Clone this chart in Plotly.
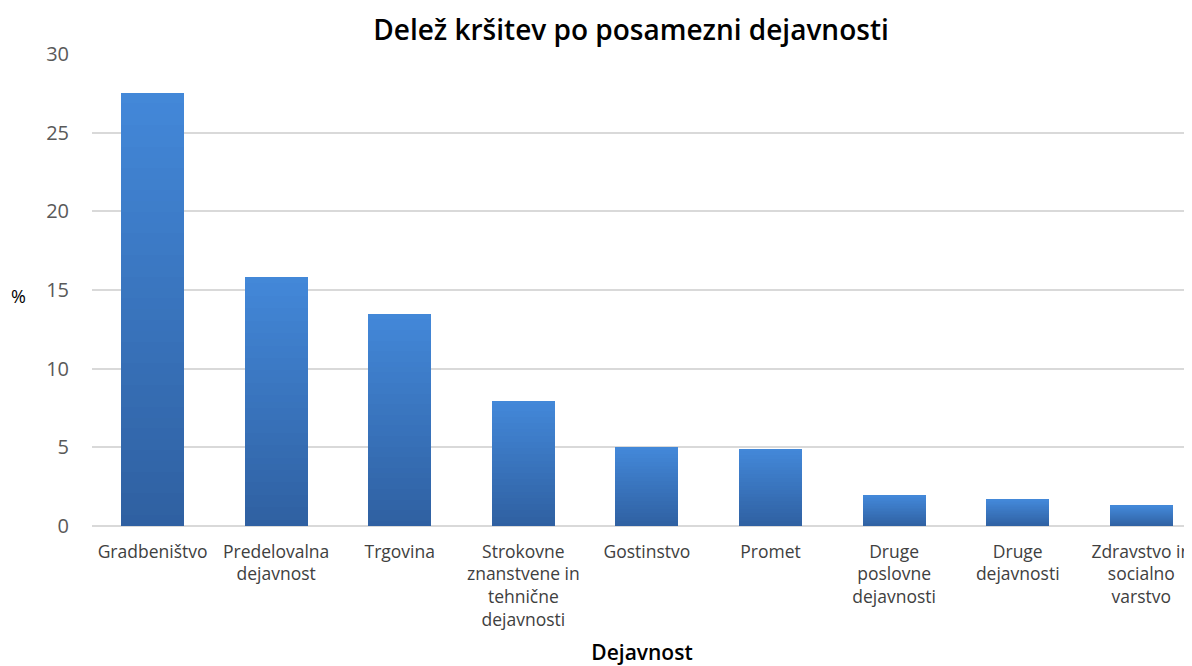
import plotly.graph_objects as go

categories = [
    "Gradbeništvo",
    "Predelovalna<br>dejavnost",
    "Trgovina",
    "Strokovne<br>znanstvene in<br>tehnične<br>dejavnosti",
    "Gostinstvo",
    "Promet",
    "Druge<br>poslovne<br>dejavnosti",
    "Druge<br>dejavnosti",
    "Zdravstvo in<br>socialno<br>varstvo",
]
values = [27.55, 15.82, 13.47, 7.93, 5.0, 4.92, 1.93, 1.67, 1.28]
y_ticks = [0, 5, 10, 15, 20, 25, 30]

title_text = "Delež kršitev po posamezni dejavnosti"
x_title = "Dejavnost"
y_title = "%"

# vertical gradient per bar: dark at bottom, light at top
top_rgb = (67, 136, 217)
bottom_rgb = (47, 96, 161)
N = 40

W, H = 1184, 658  # page body has 8px default margin
ML, MT, MB = 84, 46, 139.5
plot_h = H - MT - MB
plot_w = W - ML

fig = go.Figure()
for i in range(N):
    t = (i + 0.5) / N
    r = round(bottom_rgb[0] + (top_rgb[0] - bottom_rgb[0]) * t)
    g = round(bottom_rgb[1] + (top_rgb[1] - bottom_rgb[1]) * t)
    b = round(bottom_rgb[2] + (top_rgb[2] - bottom_rgb[2]) * t)
    fig.add_trace(go.Bar(
        x=list(range(len(categories))),
        y=[v / N for v in values],
        marker=dict(color=f"rgb({r},{g},{b})", line=dict(width=0)),
        showlegend=False,
        hoverinfo="skip",
    ))

fig.update_layout(
    width=W,
    height=H,
    barmode="stack",
    bargap=0.49,
    plot_bgcolor="white",
    paper_bgcolor="white",
    margin=dict(l=ML, r=0, t=MT, b=MB),
    font=dict(family="Open Sans", color="#404040"),
    title=dict(
        text=title_text,
        x=(631 - 8) / W, xanchor="center",
        y=1 - (30 - 8) / H, yanchor="middle",
        font=dict(size=28, color="#000000", family="Open Sans", weight=600),
    ),
    xaxis=dict(
        tickmode="array",
        tickvals=list(range(len(categories))),
        ticktext=categories,
        range=[-0.49, 8.41],
        showgrid=False,
        showline=False,
        zeroline=False,
        ticks="",
        tickangle=0,
        ticklabelstandoff=13,
        tickfont=dict(size=17.5, color="#404040"),
        title=dict(text=x_title, font=dict(size=21, color="#000000", weight=600), standoff=22),
    ),
    yaxis=dict(
        range=[0, 30],
        tickmode="array",
        tickvals=y_ticks,
        showgrid=True,
        gridcolor="#d9d9d9",
        gridwidth=1.5,
        zeroline=True,
        zerolinecolor="#d9d9d9",
        zerolinewidth=1.5,
        ticks="",
        ticklabelstandoff=22,
        tickfont=dict(size=20, color="#595959"),
    ),
    annotations=[
        dict(
            text=y_title, xref="paper", yref="paper",
            x=(18 - 8 - ML) / plot_w, y=(526.5 - 296) / plot_h,
            xanchor="center", yanchor="middle", showarrow=False,
            font=dict(size=18, color="#000000"),
        )
    ],
)

fig.write_html("out.html")
